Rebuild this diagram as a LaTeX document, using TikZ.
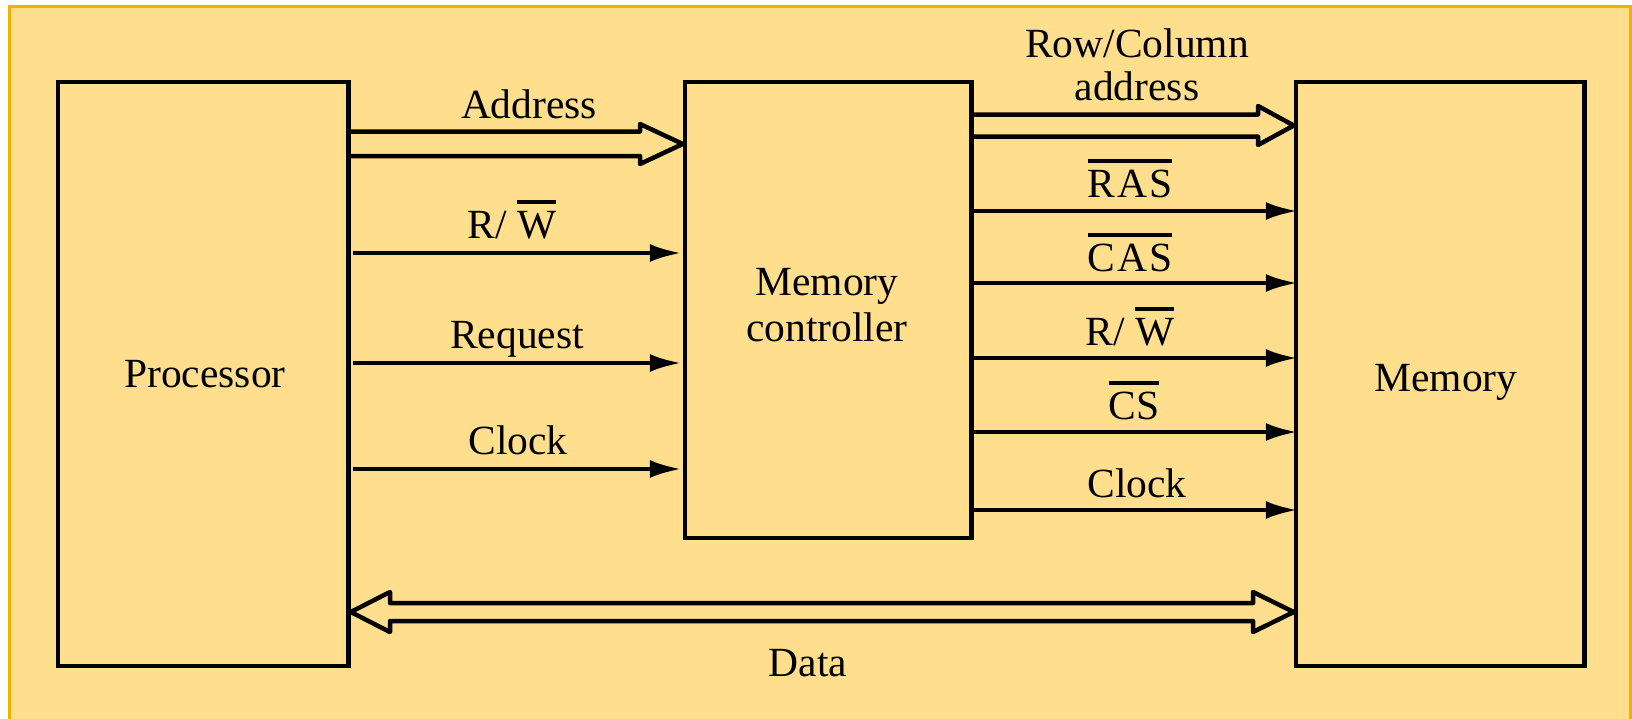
\documentclass[tikz,border=0pt]{standalone}
\usepackage{fontspec}
\setmainfont{Liberation Serif}
\usetikzlibrary{arrows.meta}
\definecolor{bg}{RGB}{255,223,142}
\definecolor{bd}{RGB}{242,176,0}
\newcommand\lbl{\fontsize{41.5}{46}\selectfont}
\newcommand\ovl[1]{\leavevmode\setbox0\hbox{#1}\rlap{\raisebox{34pt}{\rule{\wd0}{4pt}}}\box0}
\tikzset{
 blk/.style={draw, line width=4.5pt, inner sep=0pt},
 lbl/.style={inner sep=0pt, anchor=base, font=\lbl, align=center},
 sig/.style={line width=4.5pt, -{Latex[length=32pt,width=18pt]}},
 bus/.style={line width=4.5pt, line join=round, line cap=round},
}
\begin{document}
\begin{tikzpicture}[x=1pt,y=-1pt]
\useasboundingbox (0,0) rectangle (1632,718);
\fill[bg,draw=bd,line width=3pt] (9.5,6) rectangle (1630.5,724);
% blocks
\node[blk, minimum width=290.5pt, minimum height=584pt] (proc) at (203.25,374) {};
\node[blk, minimum width=286.5pt, minimum height=456pt] (mc) at (828.25,310) {};
\node[blk, minimum width=288.5pt, minimum height=584pt] (mem) at (1440.25,374) {};
\node[lbl] (proct) at (205,387) {Processor};
\node[lbl] (mct) at (827,341) {Memory\\controller};
\node[lbl] (memt) at (1446,391) {Memory};
% buses
\draw[bus] (proc.east |- 0,131.5) -- (640,131.5) -- (640,124) -- (mc.west |- 0,144) -- (640,164) -- (640,156) -- (proc.east |- 0,156);
\draw[bus] (mc.east |- 0,114.5) -- (1258,114.5) -- (1258,106) -- (mem.west |- 0,125.5) -- (1258,145) -- (1258,136.5) -- (mc.east |- 0,136.5);
\draw[bus] (1253,603) -- (1253,592) -- (mem.west |- 0,612) -- (1253,632) -- (1253,621) -- (390,621) -- (390,632) -- (proc.east |- 0,612) -- (390,592) -- (390,603) -- cycle;
% single signals
\draw[sig, shorten <=2pt, shorten >=1pt] (proc.east |- 0,253) -- (mc.west |- 0,253);
\draw[sig, shorten <=2pt, shorten >=1pt] (proc.east |- 0,363) -- (mc.west |- 0,363);
\draw[sig, shorten <=2pt, shorten >=1pt] (proc.east |- 0,469) -- (mc.west |- 0,469);
\draw[sig, shorten >=-4pt] (mc.east |- 0,211) -- (mem.west |- 0,211);
\draw[sig, shorten >=-4pt] (mc.east |- 0,283) -- (mem.west |- 0,283);
\draw[sig, shorten >=-4pt] (mc.east |- 0,358) -- (mem.west |- 0,358);
\draw[sig, shorten >=-4pt] (mc.east |- 0,432) -- (mem.west |- 0,432);
\draw[sig, shorten >=-4pt] (mc.east |- 0,510) -- (mem.west |- 0,510);
% labels
\node[lbl] (la) at (529,118) {Address};
\node[lbl] (lrw) at (512,238) {R/ \ovl{W}};
\node[lbl] (lreq) at (517,348) {Request};
\node[lbl] (lclk) at (518,454) {Clock};
\node[lbl] (lrc) at (1137,100) {Row/Column\\[-3pt]address};
\node[lbl] (lras) at (1130,197) {\ovl{R\kern2pt A\kern2pt S}};
\node[lbl] (lcas) at (1130,271) {\ovl{C\kern2pt A\kern2pt S}};
\node[lbl] (lrw2) at (1130,345) {R/ \ovl{W}};
\node[lbl] (lcs) at (1134,419) {\ovl{CS}};
\node[lbl] (lclk2) at (1137,497) {Clock};
\node[lbl] (ldata) at (808,676) {Data};
\end{tikzpicture}
\end{document}
